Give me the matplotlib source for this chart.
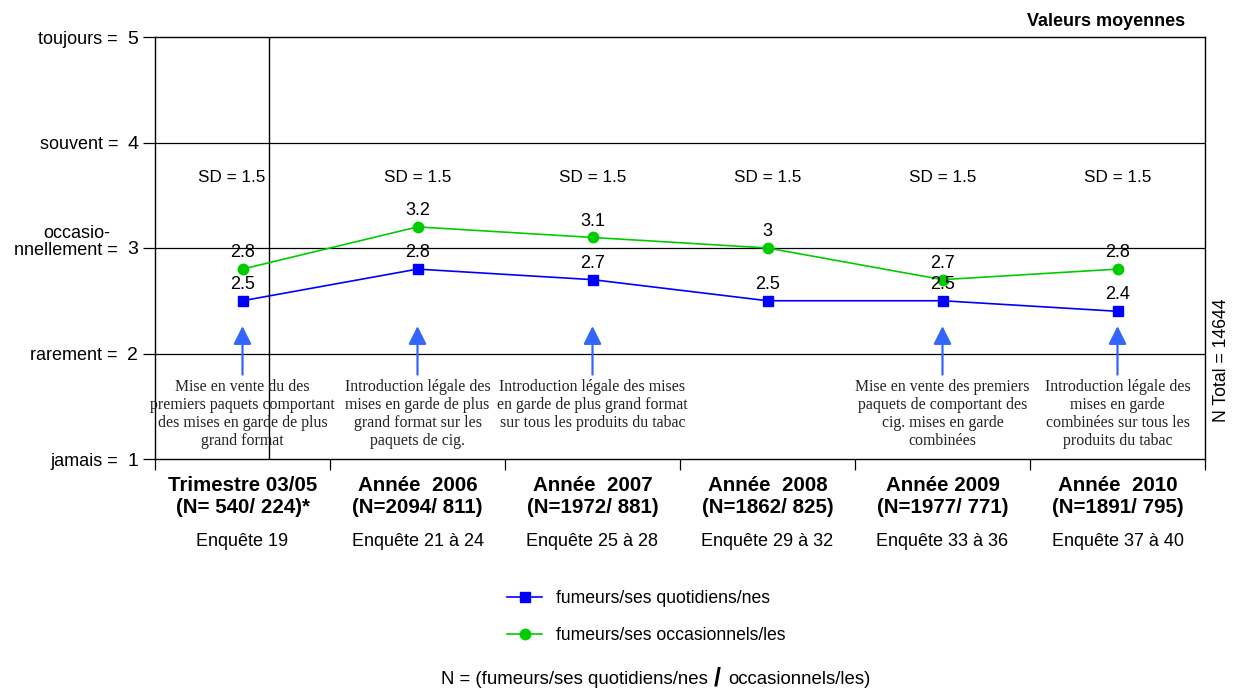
import matplotlib
matplotlib.use("Agg")
import matplotlib.pyplot as plt
from matplotlib.lines import Line2D

plt.rcParams["font.family"] = ["Liberation Sans", "DejaVu Sans"]

# Data
periods = ["Trimestre 03/05\n(N= 540/ 224)*", "Année  2006\n(N=2094/ 811)",
           "Année  2007\n(N=1972/ 881)", "Année  2008\n(N=1862/ 825)",
           "Année 2009\n(N=1977/ 771)", "Année  2010\n(N=1891/ 795)"]
surveys = ["Enquête 19", "Enquête 21 à 24", "Enquête 25 à 28",
           "Enquête 29 à 32", "Enquête 33 à 36", "Enquête 37 à 40"]
daily = [2.5, 2.8, 2.7, 2.5, 2.5, 2.4]
occasional = [2.8, 3.2, 3.1, 3.0, 2.7, 2.8]
daily_labels = ["2.5", "2.8", "2.7", "2.5", "2.5", "2.4"]
occasional_labels = ["2.8", "3.2", "3.1", "3", "2.7", "2.8"]
sd_values = ["SD = 1.5"] * 6
scale_values = [1, 2, 3, 4, 5]
scale_words = ["jamais =", "rarement =", "nnellement =", "souvent =", "toujours ="]
events = {
    0: "Mise en vente du des\npremiers paquets comportant\ndes mises en garde de plus\ngrand format",
    1: "Introduction légale des\nmises en garde de plus\ngrand format sur les\npaquets de cig.",
    2: "Introduction légale des mises\nen garde de plus grand format\nsur tous les produits du tabac",
    4: "Mise en vente des premiers\npaquets de comportant des\ncig. mises en garde\ncombinées",
    5: "Introduction légale des\nmises en garde\ncombinées sur tous les\nproduits du tabac",
}
n_total = "N Total = 14644"

W, H = 1233, 693
fig = plt.figure(figsize=(W / 100, H / 100), dpi=100)
ax = fig.add_axes([155 / W, 1 - 459 / H, 1050 / W, 422 / H])

x = list(range(len(periods)))
blue = "#0000FF"
green = "#00CC00"
arrow_c = "#3366FF"

ax.set_xlim(-0.5, 5.5)
ax.set_ylim(1, 5)

for v in [2, 3, 4]:
    ax.axhline(v, color="black", lw=0.9, zorder=1)
ax.axvline(0.15, color="black", lw=1.0, zorder=1)

ax.plot(x, daily, color=blue, lw=1.2, marker="s", ms=7, zorder=4)
ax.plot(x, occasional, color=green, lw=1.2, marker="o", ms=7.5, zorder=4)

for xi, v, lab in zip(x, daily, daily_labels):
    ax.text(xi, v + 0.155, lab, ha="center", va="center", fontsize=13, zorder=5)
for xi, v, lab in zip(x, occasional, occasional_labels):
    ax.text(xi, v + 0.155, lab, ha="center", va="center", fontsize=13, zorder=5)

sd_x = [-0.06, 1, 2, 3, 4, 5]
for xi, s in zip(sd_x, sd_values):
    ax.text(xi, 3.67, s, ha="center", va="center", fontsize=12.3)

for i, txt in events.items():
    ax.annotate("", xy=(i, 2.26), xytext=(i, 1.8),
                arrowprops=dict(arrowstyle="-|>,head_width=0.55,head_length=1.1",
                                color=arrow_c, lw=1.6, shrinkA=0, shrinkB=0))
    ax.text(i, 1.755, txt, ha="center", va="top", fontsize=11.4,
            family="Liberation Serif", color="#222222", linespacing=1.17, zorder=6)

ax.set_yticks(scale_values)
ax.set_yticklabels([str(v) for v in scale_values], fontsize=14)
ax.tick_params(axis="y", length=9, width=0.9, pad=3)
ax.set_xticks([-0.5 + i for i in range(7)])
ax.set_xticklabels([])
ax.tick_params(axis="x", length=8, width=0.9)

for sp in ["left", "bottom", "right", "top"]:
    ax.spines[sp].set_linewidth(1.0)


def ypix(v):
    return 1 - (459 - (v - 1) * 105.5) / H


for v, w in zip(scale_values, scale_words):
    fig.text(118 / W, ypix(v) - 2 / H, w, ha="right", va="center", fontsize=13)
fig.text(77 / W, ypix(3) + 15 / H, "occasio-", ha="center", va="center", fontsize=13)

for xi, p, s in zip(x, periods, surveys):
    ax.text(xi, 0.835, p, ha="center", va="top", fontsize=14.8, fontweight="bold",
            linespacing=1.2)
    ax.text(xi, 0.22, s, ha="center", va="center", fontsize=13)

fig.text(1185 / W, 1 - 21 / H, "Valeurs moyennes", ha="right", va="center",
         fontsize=13, fontweight="bold")
fig.text(1222 / W, 1 - 360 / H, n_total, ha="center", va="center",
         rotation=90, fontsize=12.7)

handles = [Line2D([], [], color=blue, marker="s", ms=7, lw=1.2),
           Line2D([], [], color=green, marker="o", ms=7.5, lw=1.2)]
fig.legend(handles, ["fumeurs/ses quotidiens/nes", "fumeurs/ses occasionnels/les"],
           loc="center left", bbox_to_anchor=(491 / W, 1 - 617 / H), frameon=False,
           fontsize=12.7, handlelength=2.0, labelspacing=1.1)

fig.text(708 / W, 1 - 680 / H, "N = (fumeurs/ses quotidiens/nes", ha="right",
         va="center", fontsize=13.4)
fig.text(717 / W, 1 - 678 / H, "/", ha="center", va="center", fontsize=18,
         fontweight="bold")
fig.text(728 / W, 1 - 680 / H, "occasionnels/les)", ha="left", va="center",
         fontsize=13.4)

fig.savefig("out.png", dpi=100)
